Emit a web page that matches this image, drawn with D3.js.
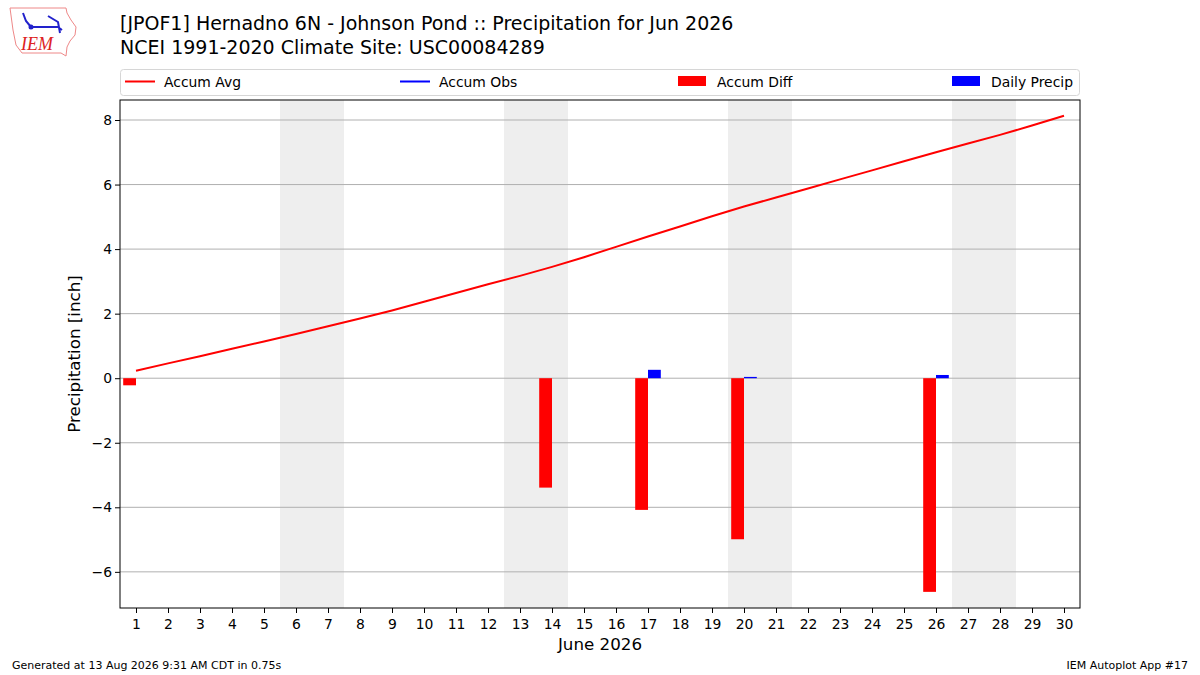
<!DOCTYPE html>
<html>
<head>
<meta charset="utf-8">
<script src="https://cdn.jsdelivr.net/npm/d3@7"></script>
<style>
  body { margin: 0; background: #fff; }
  svg { font-family: "DejaVu Sans", sans-serif; }
</style>
</head>
<body>
<div id="chart"></div>
<script>
// values
var days = d3.range(1, 31);
var accumAvg = [0.23, 0.46, 0.68, 0.91, 1.14, 1.37, 1.61, 1.85, 2.10, 2.37,
                2.64, 2.91, 3.17, 3.45, 3.75, 4.07, 4.39, 4.70, 5.02, 5.32,
                5.60, 5.88, 6.16, 6.44, 6.72, 7.00, 7.27, 7.54, 7.83, 8.13];
var diffDays = [1, 14, 17, 20, 26];
var accumDiff = [-0.22, -3.39, -4.08, -4.99, -6.62];
var precipDays = [17, 20, 26];
var dailyPrecip = [0.26, 0.04, 0.10];
var weekends = [[6, 7], [13, 14], [20, 21], [27, 28]];
var yTicks = [-6, -4, -2, 0, 2, 4, 6, 8];

var svgWidth = 1200, svgHeight = 675;
var margin = {top: 100, right: 120, bottom: 67, left: 120},
    width = svgWidth - margin.left - margin.right,
    height = svgHeight - margin.top - margin.bottom;

var svgRoot = d3.select("#chart").append("svg")
    .attr("width", svgWidth)
    .attr("height", svgHeight);

// logo
var logo = svgRoot.append("g");
logo.append("path")
  .attr("d", "M10,8 L66,8 L67,13 L71,20 L76,27 L75,35 L70,41 L67,47 L66,56 L61,53 L22,53 L16,45 L13,30 Z")
  .attr("fill", "none").attr("stroke", "#e88").attr("stroke-width", 1);
logo.append("path")
  .attr("d", "M31,27 L58,27 M23,13 L26,21 L31,27 M48,16 L58,22 L60,33 M58,27 L62,30")
  .attr("stroke", "#22c").attr("stroke-width", 2).attr("fill", "none");
logo.append("circle").attr("cx", 31).attr("cy", 27).attr("r", 2.5).attr("fill", "#22c");
logo.append("text").attr("x", 21).attr("y", 50)
  .attr("font-family", "Liberation Serif, serif").attr("font-style", "italic")
  .attr("font-size", 18).attr("fill", "#d22").text("IEM");

// titles
svgRoot.append("text").attr("x", 120).attr("y", 30).attr("font-size", 19)
  .text("[JPOF1] Hernadno 6N - Johnson Pond :: Precipitation for Jun 2026");
svgRoot.append("text").attr("x", 120).attr("y", 54).attr("font-size", 19)
  .text("NCEI 1991-2020 Climate Site: USC00084289");

var svg = svgRoot.append("g")
    .attr("transform", "translate(" + margin.left + "," + margin.top + ")");

var x = d3.scaleLinear().domain([0.5, 30.5]).range([0, width]);
var y = d3.scaleLinear().domain([-7.12, 8.62]).range([height, 0]);

// weekend shading
svg.selectAll(".wk").data(weekends).join("rect")
  .attr("x", d => x(d[0] - 0.5))
  .attr("width", d => x(d[1] + 0.5) - x(d[0] - 0.5))
  .attr("y", 0).attr("height", height)
  .attr("fill", "#eeeeee");

// grid
svg.selectAll(".grid").data(yTicks).join("line")
  .attr("x1", 0).attr("x2", width)
  .attr("y1", d => y(d)).attr("y2", d => y(d))
  .attr("stroke", "#b0b0b0").attr("stroke-width", 1);

// accum diff bars
svg.selectAll(".diff").data(diffDays).join("rect")
  .attr("x", d => x(d - 0.4))
  .attr("width", x(1.4) - x(1))
  .attr("y", (d, i) => y(Math.max(0, accumDiff[i])))
  .attr("height", (d, i) => Math.abs(y(accumDiff[i]) - y(0)))
  .attr("fill", "red");

// daily precip bars
svg.selectAll(".daily").data(precipDays).join("rect")
  .attr("x", d => x(d))
  .attr("width", x(1.4) - x(1))
  .attr("y", (d, i) => y(dailyPrecip[i]))
  .attr("height", (d, i) => y(0) - y(dailyPrecip[i]))
  .attr("fill", "blue");

// accum avg line
var line = d3.line().x((d, i) => x(days[i])).y(d => y(d));
svg.append("path").datum(accumAvg)
  .attr("d", line)
  .attr("fill", "none").attr("stroke", "red").attr("stroke-width", 2);

// axes
var xAxis = svg.append("g")
  .attr("transform", "translate(0," + height + ")")
  .call(d3.axisBottom(x).tickValues(days).tickFormat(d3.format("d")).tickSize(5).tickSizeOuter(0));
var yAxis = svg.append("g")
  .call(d3.axisLeft(y).tickValues(yTicks).tickFormat(d => d < 0 ? "\u2212" + Math.abs(d) : d).tickSize(5).tickSizeOuter(0));
[xAxis, yAxis].forEach(function(a) {
  a.select(".domain").remove();
  a.selectAll("text").attr("font-size", 13.9).attr("font-family", "DejaVu Sans, sans-serif").attr("fill", "#000");
  a.selectAll("line").attr("stroke", "#000");
});
xAxis.selectAll("text").attr("dy", "0.95em");

// frame
svg.append("rect").attr("width", width).attr("height", height)
  .attr("fill", "none").attr("stroke", "#000").attr("stroke-width", 1);

// axis labels
svg.append("text").attr("x", width / 2).attr("y", height + 42)
  .attr("text-anchor", "middle").attr("font-size", 16.7).text("June 2026");
svg.append("text").attr("transform", "translate(-40," + (height / 2) + ") rotate(-90)")
  .attr("text-anchor", "middle").attr("font-size", 16.7).text("Precipitation [inch]");

// legend
var leg = svgRoot.append("g");
leg.append("rect").attr("x", 120.5).attr("y", 69.5).attr("width", 959).attr("height", 26)
  .attr("rx", 3).attr("fill", "#fff").attr("stroke", "#d6d6d6");
var legItems = [
  {label: "Accum Avg", type: "line", color: "red", x: 125},
  {label: "Accum Obs", type: "line", color: "blue", x: 400},
  {label: "Accum Diff", type: "rect", color: "red", x: 678},
  {label: "Daily Precip", type: "rect", color: "blue", x: 952}
];
legItems.forEach(function(d) {
  if (d.type === "line") {
    leg.append("line").attr("x1", d.x).attr("x2", d.x + 30).attr("y1", 81.5).attr("y2", 81.5)
      .attr("stroke", d.color).attr("stroke-width", 2);
  } else {
    leg.append("rect").attr("x", d.x).attr("y", 76).attr("width", 28).attr("height", 10)
      .attr("fill", d.color);
  }
  leg.append("text").attr("x", d.x + 39).attr("y", 86.5).attr("font-size", 13.9).text(d.label);
});

// footer
svgRoot.append("text").attr("x", 12).attr("y", 669).attr("font-size", 11).text("Generated at 13 Aug 2026 9:31 AM CDT in 0.75s");
svgRoot.append("text").attr("x", 1188).attr("y", 669).attr("font-size", 11).attr("text-anchor", "end").text("IEM Autoplot App #17");
</script>
</body>
</html>
